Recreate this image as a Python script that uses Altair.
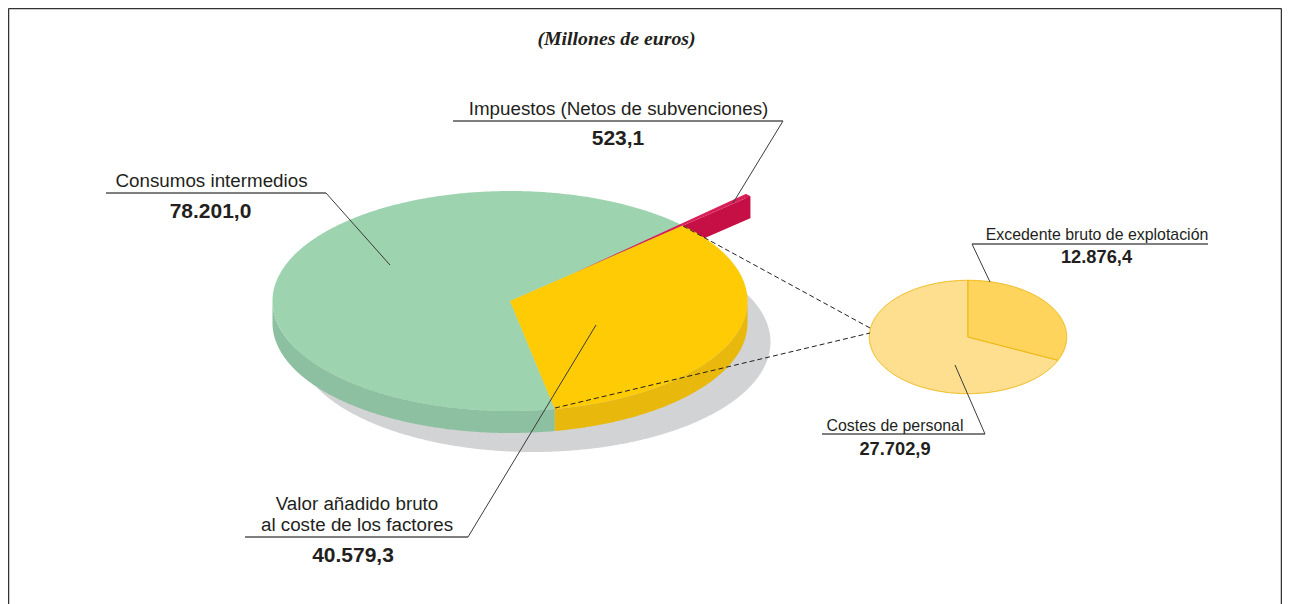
import math
import altair as alt
import pandas as pd

# ---------- data ----------
main_labels = ["Consumos intermedios", "Valor añadido bruto al coste de los factores", "Impuestos (Netos de subvenciones)"]
main_values = [78201.0, 40579.3, 523.1]
detail_labels = ["Excedente bruto de explotación", "Costes de personal"]
detail_values = [12876.4, 27702.9]

# ---------- layout (page pixels) ----------
W, H = 1274, 596
OX, OY = 8, 8
CX, CY, RX, RY = 510.0, 301.0, 237.5, 110.0
DEPTH = 22
SHADOW = (533.0, 342.0)
CX2, CY2, RX2, RY2 = 968.0, 337.0, 98.7, 56.7
YELLOW_START = 43.3      # degrees, on the unsquashed circle
EXPLODE = 0.39

C_SHADOW = "#d1d3d4"
C_GREEN, C_GREEN_W = "#9dd3ae", "#8dc0a0"
C_YELLOW, C_YELLOW_W = "#ffcb05", "#e8b80c"
C_RED, C_RED_W = "#d91f58", "#c60f45"
C_LIGHT, C_DARK, C_EDGE = "#fedf8f", "#fed45c", "#eeb711"

xs = alt.Scale(domain=[OX, OX + W], nice=False, zero=False)
ys = alt.Scale(domain=[OY + H, OY], nice=False, zero=False)


def pt(cx, cy, rx, ry, deg):
    a = math.radians(deg)
    return [cx + rx * math.cos(a), cy - ry * math.sin(a)]


def arc(cx, cy, rx, ry, a0, a1, dy=0.0):
    n = max(2, int(abs(a1 - a0) * 2))
    return [[p[0], p[1] + dy] for p in
            (pt(cx, cy, rx, ry, a0 + (a1 - a0) * i / n) for i in range(n + 1))]


def shape(ring, fill, stroke=None, sw=1.0):
    ring = ring + [ring[0]]
    feat = {"type": "Feature", "properties": {}, "geometry": {"type": "Polygon", "coordinates": [ring]}}
    kw = {"fill": fill, "strokeWidth": 0}
    if stroke:
        kw = {"fill": fill, "stroke": stroke, "strokeWidth": sw}
    return (alt.Chart(alt.InlineData(values=[feat])).mark_geoshape(**kw)
            .project(type="identity", scale=1, translate=[-OX, -OY]))


def wedge(cx, cy, rx, ry, a0, a1):
    return [[cx, cy]] + arc(cx, cy, rx, ry, a0, a1)


def wall(cx, cy, rx, ry, a0, a1, depth):
    return arc(cx, cy, rx, ry, a0, a1) + arc(cx, cy, rx, ry, a1, a0, depth)


def lines(rows, color, width, dash=None):
    df = pd.DataFrame(rows, columns=["x", "y", "x2", "y2"])
    kw = {"color": color, "strokeWidth": width}
    if dash:
        kw["strokeDash"] = dash
    return alt.Chart(df).mark_rule(**kw).encode(
        x=alt.X("x:Q", scale=xs, axis=None), y=alt.Y("y:Q", scale=ys, axis=None),
        x2="x2:Q", y2="y2:Q")


def text(rows, size, weight="normal", font="Liberation Sans", style="normal"):
    df = pd.DataFrame(rows, columns=["t", "x", "y"])
    return alt.Chart(df).mark_text(
        align="center", baseline="alphabetic", fontSize=size, fontWeight=weight,
        font=font, fontStyle=style, color="#231f20").encode(
        x=alt.X("x:Q", scale=xs, axis=None), y=alt.Y("y:Q", scale=ys, axis=None), text="t:N")


# ---------- angles from the values ----------
total = sum(main_values)
sweep_green, sweep_yellow, sweep_red = [v / total * 360 for v in main_values]
y0 = YELLOW_START
y1 = y0 - sweep_yellow
r0 = y0
r1 = y0 + sweep_red
mid = math.radians(y0)
ex_x = CX + EXPLODE * RX * math.cos(mid)
ex_y = CY - EXPLODE * RY * math.sin(mid)

share = detail_values[0] / sum(detail_values) * 360

red_outer = pt(ex_x, ex_y, RX, RY, r0)
red_face = [[ex_x, ex_y], red_outer, [red_outer[0], red_outer[1] + DEPTH], [ex_x, ex_y + DEPTH]]
end_face = wall(ex_x, ex_y, RX, RY, r0, r1, DEPTH)

layers = [
    # shadow and walls
    shape(arc(SHADOW[0], SHADOW[1], RX, RY, 0, 359.5), C_SHADOW),
    shape(wall(CX, CY, RX, RY, 180, 360 + y1, DEPTH), C_GREEN_W),
    shape(wall(CX, CY, RX, RY, y1, 0, DEPTH), C_YELLOW_W),
    shape(red_face, C_RED_W),
    shape(end_face, C_RED_W),
    # tops
    shape(wedge(CX, CY, RX, RY, y0, 360 + y1), C_GREEN),
    shape(wedge(ex_x, ex_y, RX, RY, r0, r1), C_RED),
    shape(wedge(CX, CY, RX, RY, y1, y0), C_YELLOW),
    # detail pie
    shape(wedge(CX2, CY2, RX2, RY2, 90 - share, 90 - 360), C_LIGHT, C_EDGE),
    shape(wedge(CX2, CY2, RX2, RY2, 90, 90 - share), C_DARK, C_EDGE),
    # connectors
    lines([[683, 226, 870, 328], [555, 408, 870, 333]], "#231f20", 1, [5, 3]),
    # leader lines
    lines([[783, 121, 733, 203], [326, 193, 390, 265], [468, 537, 596, 325],
           [972, 244, 990, 282], [985, 434, 955, 365]], "#3a3a3a", 1),
    lines([[453, 121, 783, 121], [106, 193, 326, 193], [245, 537, 468, 537],
           [972, 244, 1208, 244], [822, 434, 985, 434]], "#555555", 1.3),
    # frame
    lines([[8.5, 8.5, 8.5, 604], [8.5, 8.5, 1281.5, 8.5], [1281.5, 8.5, 1281.5, 604]], "#333333", 1.5),
    # texts
    text([["(Millones de euros)", 616.5, 45]], 19.8, "bold", "Liberation Serif", "italic"),
    text([["Impuestos (Netos de subvenciones)", 618.5, 115],
          ["Consumos intermedios", 211.5, 187],
          ["Valor añadido bruto", 357, 510],
          ["al coste de los factores", 357, 531]], 18.8),
    text([["Excedente bruto de explotación", 1097, 240],
          ["Costes de personal", 895, 431]], 15.9),
    text([["523,1", 618, 145], ["78.201,0", 210.5, 218], ["40.579,3", 353, 562]], 21, "bold"),
    text([["12.876,4", 1096.5, 263], ["27.702,9", 895, 455]], 18.3, "bold"),
]

chart = alt.layer(*layers).properties(
    width=W, height=H, padding=0, autosize="none", background="white"
).configure_view(strokeWidth=0)

chart.save("out.html", embed_options={"renderer": "svg", "actions": False})
